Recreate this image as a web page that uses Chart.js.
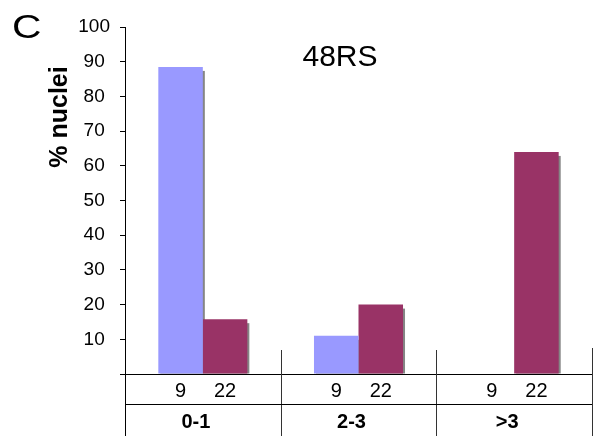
<!DOCTYPE html>
<html>
<head>
<meta charset="utf-8">
<script src="https://cdn.jsdelivr.net/npm/chart.js@4/dist/chart.umd.min.js"></script>
<style>
    html, body { margin: 0; padding: 0; background: #fff; }
    #wrap { width: 597px; height: 436px; position: relative; }
</style>
</head>
<body>
<div id="wrap"><canvas id="chart"></canvas></div>
<script>
// data
const groups = ['0-1', '2-3', '>3'];
const seriesNames = ['9', '22'];
const values9 = [88.5, 11, 0];
const values22 = [15.8, 20, 64];
const yTicks = [0, 10, 20, 30, 40, 50, 60, 70, 80, 90, 100];

const FONT = '"Liberation Sans", Arial, sans-serif';
Chart.defaults.font.family = FONT;
Chart.defaults.color = '#000';

// grey drop shadow behind each bar
const barShadow = {
    id: 'barShadow',
    beforeDatasetsDraw(chart) {
        const ctx = chart.ctx;
        ctx.save();
        ctx.fillStyle = '#858585';
        chart.data.datasets.forEach((ds, di) => {
            chart.getDatasetMeta(di).data.forEach((bar, i) => {
                if (!ds.data[i]) return;
                const p = bar.getProps(['x', 'y', 'base', 'width'], true);
                ctx.fillRect(p.x - p.width / 2 + 2, p.y + 4, p.width, p.base - p.y - 4);
            });
        });
        ctx.restore();
    }
};

// two-level category table under the plot, plus titles
const decorations = {
    id: 'decorations',
    afterDraw(chart) {
        const ctx = chart.ctx;
        const xs = chart.scales.x;
        const area = chart.chartArea;
        const half = (xs.getPixelForValue(1) - xs.getPixelForValue(0)) / 2;
        const H = chart.height;
        const rowLine = area.bottom + 30;

        ctx.save();
        ctx.strokeStyle = '#000';
        ctx.lineWidth = 1;

        // left axis continues down
        ctx.beginPath();
        ctx.moveTo(Math.round(area.left) + 0.5, area.bottom);
        ctx.lineTo(Math.round(area.left) + 0.5, H);
        ctx.stroke();

        // group separators
        ctx.strokeStyle = '#333';
        for (let i = 0; i < groups.length; i++) {
            const bx = Math.round(xs.getPixelForValue(i) + half) + 0.5;
            ctx.beginPath();
            ctx.moveTo(bx, area.bottom - (i === groups.length - 1 ? 26 : 24));
            ctx.lineTo(bx, H);
            ctx.stroke();
        }

        // second row line
        ctx.strokeStyle = '#000';
        ctx.beginPath();
        ctx.moveTo(area.left, rowLine + 0.5);
        ctx.lineTo(area.right, rowLine + 0.5);
        ctx.stroke();

        // series labels under each bar
        ctx.fillStyle = '#000';
        ctx.textAlign = 'center';
        ctx.textBaseline = 'middle';
        ctx.font = '20px ' + FONT;
        chart.data.datasets.forEach((ds, di) => {
            chart.getDatasetMeta(di).data.forEach(bar => {
                ctx.fillText(seriesNames[di], bar.x, area.bottom + 17);
            });
        });

        // group labels
        ctx.font = 'bold 20px ' + FONT;
        groups.forEach((g, i) => {
            ctx.fillText(g, xs.getPixelForValue(i) - 7, rowLine + 18);
        });

        // title
        ctx.font = '30px ' + FONT;
        ctx.fillText('48RS', 340, 58);

        // panel letter, a little wider than tall like the source
        ctx.save();
        ctx.translate(12, 38);
        ctx.scale(1.2, 1);
        ctx.font = '34px ' + FONT;
        ctx.textAlign = 'left';
        ctx.textBaseline = 'alphabetic';
        ctx.fillText('C', 0, 0);
        ctx.restore();

        // y axis title
        ctx.translate(60, 117);
        ctx.rotate(-Math.PI / 2);
        ctx.font = 'bold 25px ' + FONT;
        ctx.fillText('% nuclei', 0, 0);
        ctx.restore();
    }
};

new Chart(document.getElementById('chart'), {
    type: 'bar',
    data: {
        labels: groups,
        datasets: [
            { label: seriesNames[0], data: values9, backgroundColor: '#9999ff', borderWidth: 0 },
            { label: seriesNames[1], data: values22, backgroundColor: '#993366', borderWidth: 0 }
        ]
    },
    options: {
        responsive: true,
        maintainAspectRatio: false,
        animation: false,
        layout: { padding: { top: 27, right: 5, left: 0, bottom: 0 } },
        datasets: {
            bar: { categoryPercentage: 0.572, barPercentage: 1.0 }
        },
        scales: {
            x: {
                grid: { display: false },
                border: { display: true, color: '#000', width: 1 },
                ticks: { display: false },
                afterFit: s => { s.height = 62; }
            },
            y: {
                min: 0,
                max: 100,
                afterBuildTicks: s => { s.ticks = yTicks.map(v => ({ value: v })); },
                grid: { drawOnChartArea: false, drawTicks: true, tickLength: 5, color: '#000' },
                border: { display: true, color: '#000', width: 1 },
                ticks: {
                    font: { size: 19 },
                    color: '#000',
                    padding: 10,
                    crossAlign: 'center',
                    callback: v => (v === 0 ? '' : v)
                },
                afterFit: s => { s.width = 125; }
            }
        },
        plugins: {
            legend: { display: false },
            tooltip: { enabled: false }
        }
    },
    plugins: [barShadow, decorations]
});
</script>
</body>
</html>
